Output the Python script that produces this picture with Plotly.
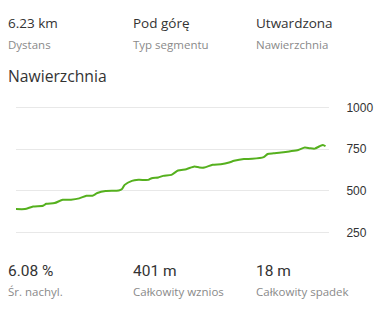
import plotly.graph_objects as go

distance_km = [0, 0.179, 0.345, 0.544, 0.610, 0.776, 0.941, 1.107, 1.273, 1.418, 1.538, 1.637,
               1.803, 2.068, 2.134, 2.187, 2.333, 2.466, 2.665, 2.731, 2.864, 2.963, 3.129, 3.261,
               3.427, 3.593, 3.692, 3.792, 3.957, 4.123, 4.289, 4.388, 4.587, 4.753, 4.985, 5.065,
               5.184, 5.383, 5.515, 5.681, 5.813, 5.912, 6.012, 6.111, 6.178, 6.23]
elevation_m = [391, 391, 407, 411, 423, 427, 447, 447, 455, 471, 471, 487,
               499, 502, 511, 536, 560, 566, 566, 576, 580, 590, 596, 622,
               630, 646, 640, 640, 656, 660, 670, 680, 691, 692, 702, 721,
               725, 731, 737, 745, 759, 755, 753, 767, 775, 767]
y_ticks = [250, 500, 750, 1000]

top_values = ["6.23 km", "Pod górę", "Utwardzona"]
top_labels = ["Dystans", "Typ segmentu", "Nawierzchnia"]
bottom_values = ["6.08 %", "401 m", "18 m"]
bottom_labels = ["Śr. nachyl.", "Całkowity wznios", "Całkowity spadek"]
section_title = "Nawierzchnia"

W, H = 385, 314
L, R, T, B = 16, 52, 99, 73
pw, ph = W - L - R, H - T - B

fig = go.Figure()
fig.add_trace(go.Scatter(x=distance_km, y=elevation_m, mode="lines",
                         line=dict(color="#55b01e", width=2, shape="spline", smoothing=0.6),
                         hoverinfo="skip", showlegend=False))

col_x = [6, 132, 257]
ann = []
def px(x, y, text, size, color, family="Open Sans"):
    ann.append(dict(x=(x - L) / pw, y=1 - (y - T) / ph, xref="paper", yref="paper", text=text,
                    showarrow=False, xanchor="left", yanchor="middle",
                    font=dict(family=family, size=size, color=color)))

for i in range(3):
    px(col_x[i], 22.5, top_values[i], 13.5, "#333333")
    px(col_x[i], 44, top_labels[i], 11.5, "#8a8a8a")
    px(col_x[i], 270.5, bottom_values[i], 15.5, "#333333", "Roboto")
    px(col_x[i], 291, bottom_labels[i], 11.5, "#8a8a8a")
px(6, 76, section_title, 15.7, "#333333")

fig.update_layout(
    width=W, height=H, margin=dict(l=L, r=R, t=T, b=B),
    paper_bgcolor="white", plot_bgcolor="white",
    annotations=ann,
    xaxis=dict(range=[0, 6.3], visible=False, showgrid=False, zeroline=False),
    yaxis=dict(range=[200, 1050], side="right", tickvals=y_ticks,
               ticktext=[str(v) for v in y_ticks], showgrid=True, gridcolor="#e8e8e8",
               gridwidth=1, zeroline=False, showline=False, ticks="outside", ticklen=14,
               tickcolor="rgba(0,0,0,0)",
               tickfont=dict(family="Liberation Sans", size=12, color="#333333")),
)
fig.write_html("out.html")
